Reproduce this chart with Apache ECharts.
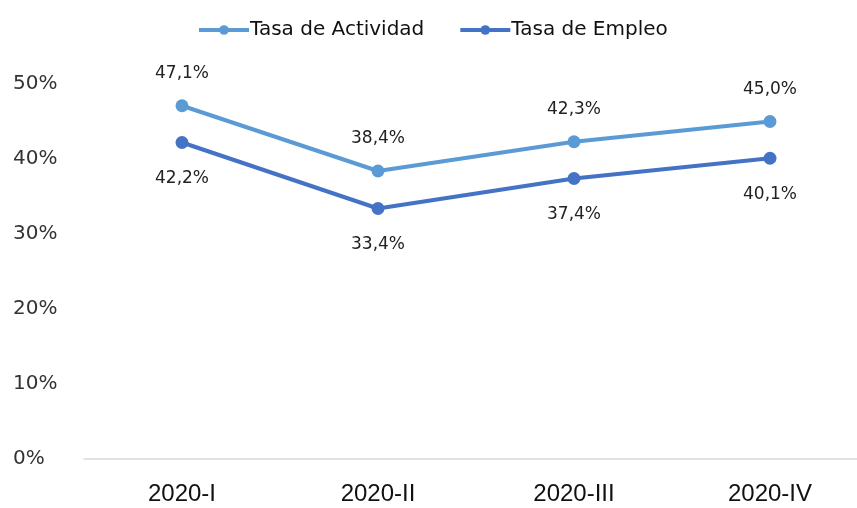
<!DOCTYPE html>
<html>
<head>
<meta charset="utf-8">
<script src="https://cdn.jsdelivr.net/npm/echarts@6/dist/echarts.min.js"></script>
<style>
html, body { margin: 0; padding: 0; background: #fff; }
#chart { width: 857px; height: 508px; }
</style>
</head>
<body>
<div id="chart"></div>
<script>
const categories = ['2020-I', '2020-II', '2020-III', '2020-IV']
const actividad = [47.1, 38.4, 42.3, 45.0]
const empleo = [42.2, 33.4, 37.4, 40.1]

const fmt = (v) => v.toFixed(1).replace('.', ',') + '%'

const chart = echarts.init(document.getElementById('chart'))
chart.setOption({
	animation: false,
	color: ['#5b9bd5', '#4472c4'],
	legend: {
		top: 15,
		left: 192,
		itemWidth: 50,
		itemHeight: 12,
		itemGap: 34,
		lineStyle: { width: 4 },
		textStyle: { fontFamily: 'DejaVu Sans', fontSize: 20, color: '#111', padding: [0, 0, 0, -4] },
	},
	grid: { left: 84, width: 784, top: 84, bottom: 49, outerBoundsMode: 'none' },
	xAxis: {
		type: 'category',
		data: categories,
		boundaryGap: true,
		axisLine: { lineStyle: { color: '#d9d9d9', width: 1.5 } },
		axisTick: { show: false },
		axisLabel: {
			margin: 23,
			fontFamily: 'Liberation Sans',
			fontSize: 24,
			color: '#111',
		},
	},
	yAxis: {
		type: 'value',
		min: 0,
		max: 50,
		interval: 10,
		splitLine: { show: false },
		axisLine: { show: false },
		axisTick: { show: false },
		axisLabel: {
			formatter: '{value}%',
			align: 'left',
			margin: 71,
			fontFamily: 'DejaVu Sans',
			fontSize: 20,
			color: '#333',
		},
	},
	series: [
		{
			name: 'Tasa de Actividad',
			type: 'line',
			data: actividad,
			symbol: 'circle',
			symbolSize: 13,
			lineStyle: { width: 4 },
			label: {
				show: true,
				position: 'top',
				distance: 17,
				formatter: (p) => fmt(p.value),
				fontFamily: 'DejaVu Sans',
				fontSize: 17,
				color: '#222',
			},
		},
		{
			name: 'Tasa de Empleo',
			type: 'line',
			data: empleo,
			symbol: 'circle',
			symbolSize: 13,
			lineStyle: { width: 4 },
			label: {
				show: true,
				position: 'bottom',
				distance: 21,
				formatter: (p) => fmt(p.value),
				fontFamily: 'DejaVu Sans',
				fontSize: 17,
				color: '#222',
			},
		},
	],
})
</script>
</body>
</html>
